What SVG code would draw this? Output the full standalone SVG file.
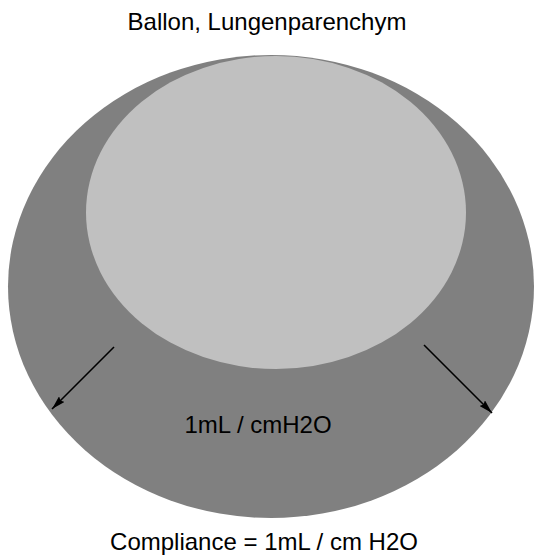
<svg xmlns="http://www.w3.org/2000/svg" width="534" height="555" viewBox="0 0 534 555">
<style>
text{font-family:"Liberation Sans",Arial,sans-serif;font-size:24px;fill:#000;text-anchor:middle}
.arr{stroke:#000;stroke-width:1.6;fill:none;marker-end:url(#ah)}
</style>
<defs>
<marker id="ah" viewBox="0 0 14 8" refX="14" refY="4" markerWidth="14" markerHeight="8" markerUnits="userSpaceOnUse" orient="auto">
<path d="M0,0 L14,4 L0,8 L2,4 z" fill="#000"/>
</marker>
</defs>
<rect width="534" height="555" fill="#fff"/>
<g id="title"><text x="267" y="30">Ballon, Lungenparenchym</text></g>
<g id="outer"><ellipse cx="271" cy="286.5" rx="263" ry="231.5" fill="#808080"/></g>
<g id="inner"><ellipse cx="276" cy="212.5" rx="190" ry="156.5" fill="#c0c0c0"/></g>
<g id="connectors">
<line class="arr" x1="114" y1="347" x2="52" y2="409"/>
<line class="arr" x1="424" y1="345" x2="492" y2="413"/>
</g>
<g id="label"><text x="258" y="433">1mL / cmH2O</text></g>
<g id="caption"><text x="264" y="550">Compliance = 1mL / cm H2O</text></g>
</svg>
